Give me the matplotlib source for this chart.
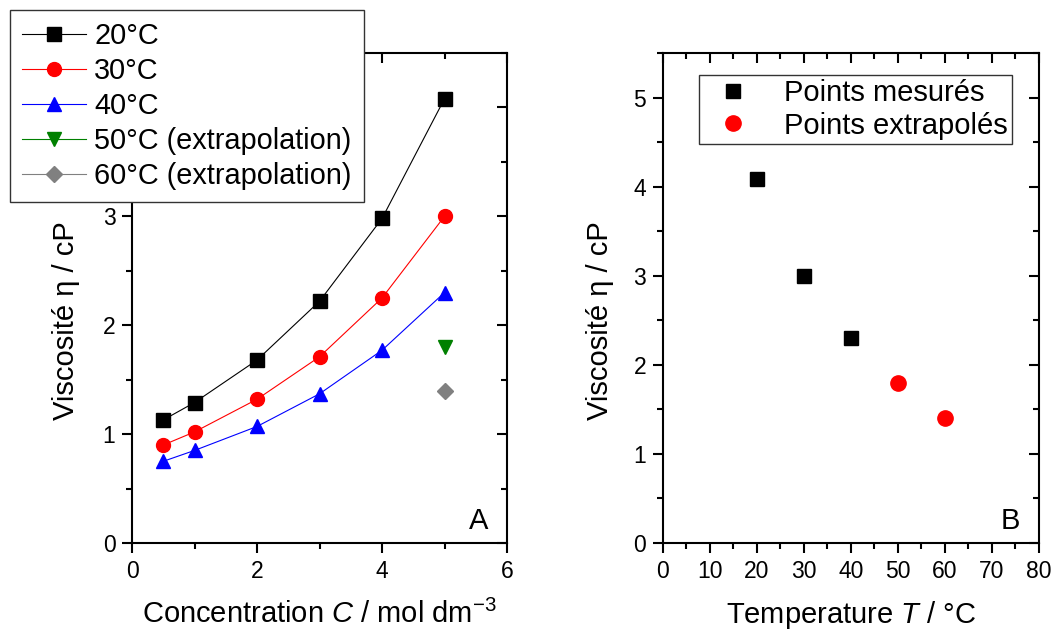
import numpy as np
import matplotlib as mpl
import matplotlib.pyplot as plt
from matplotlib.ticker import MultipleLocator

mpl.rcParams.update({
    'font.family'       : 'Liberation Sans',
    'mathtext.fontset'  : 'custom',
    'mathtext.rm'       : 'Liberation Sans',
    'mathtext.it'       : 'Liberation Sans:italic',
    'axes.linewidth'    : 1.5,
    'axes.unicode_minus': False,
})

###################################
# Data
###################################

conc = [0.5, 1, 2, 3, 4, 5]
visc_20 = [1.13, 1.29, 1.68, 2.22, 2.98, 4.08]
visc_30 = [0.90, 1.02, 1.32, 1.71, 2.25, 3.00]
visc_40 = [0.75, 0.85, 1.07, 1.37, 1.77, 2.30]
conc_extra = [5]
visc_50 = [1.80]
visc_60 = [1.40]

temp_meas = [20, 30, 40]
visc_meas = [4.08, 3.00, 2.30]
temp_extra = [50, 60]
visc_extra = [1.80, 1.40]

###################################
# Figure
###################################

fig = plt.figure(figsize=(10.53, 6.40), dpi=100)
pos1 = [0.1254, 0.1516, 0.3561, 0.7656]
pos2 = [0.6296, 0.1516, 0.3571, 0.7656]
ax1 = fig.add_axes(pos1)
ax2 = fig.add_axes(pos2)


def style_axes(ax, pos, xmaj, xmin, ymaj, ymin):
    ax.xaxis.set_major_locator(MultipleLocator(xmaj))
    ax.xaxis.set_minor_locator(MultipleLocator(xmin))
    ax.yaxis.set_major_locator(MultipleLocator(ymaj))
    ax.yaxis.set_minor_locator(MultipleLocator(ymin))
    ax.tick_params(which='both', direction='out', width=1.5,
                   left=True, bottom=True, top=False, right=False)
    ax.tick_params(which='major', length=7, labelsize=16.5, pad=5)
    ax.tick_params(which='minor', length=4)
    ax.patch.set_visible(False)
    # overlay axes (drawn underneath) for the inward ticks on top and right
    ov = fig.add_axes(pos, sharex=ax, sharey=ax)
    ov.patch.set_visible(False)
    for s in ov.spines.values():
        s.set_visible(False)
    ov.tick_params(which='both', direction='in', width=1.5,
                   left=False, bottom=False, top=True, right=True,
                   labelleft=False, labelbottom=False, labeltop=False, labelright=False)
    ov.tick_params(which='major', length=7)
    ov.tick_params(which='minor', length=4)
    ov.set_zorder(ax.get_zorder() - 1)


############
## Panel A
############

ms = 9.5
lw = 0.8
ax1.plot(conc, visc_20, c='black', marker='s', ms=ms, lw=lw, label='20°C')
ax1.plot(conc, visc_30, c='red', marker='o', ms=ms+0.5, lw=lw, label='30°C')
ax1.plot(conc, visc_40, c='blue', marker='^', ms=ms+1, lw=lw, label='40°C')
ax1.plot(conc_extra, visc_50, c='green', marker='v', ms=ms+1, lw=lw, label='50°C (extrapolation)')
ax1.plot(conc_extra, visc_60, c='gray', marker='D', ms=ms-1.5, lw=lw, label='60°C (extrapolation)')
ax1.set_xlim([0, 6])
ax1.set_ylim([0, 4.5])
style_axes(ax1, pos1, 2, 1, 1, 0.5)
ax1.set_xlabel(r'Concentration $C$ / mol dm$^{\mathregular{-3}}$', fontsize=21, labelpad=12)
ax1.set_ylabel('Viscosité η / cP', fontsize=21)
ax1.yaxis.set_label_coords(-0.139, 0.453)
ax1.text(0.95, 0.016, 'A', transform=ax1.transAxes, ha='right', va='bottom', fontsize=21)
leg1 = ax1.legend(loc='upper left', bbox_to_anchor=(0.0095, 0.984), bbox_transform=fig.transFigure,
                  fontsize=20.8, fancybox=False, framealpha=1, edgecolor='#333333',
                  borderaxespad=0, borderpad=0.42, labelspacing=0.24,
                  handlelength=2.2, handletextpad=0.3)
leg1.get_frame().set_linewidth(1.0)
leg1.set_zorder(10)

############
## Panel B
############

ax2.plot(temp_meas, visc_meas, ls='none', c='black', marker='s', ms=ms+1, label='Points mesurés')
ax2.plot(temp_extra, visc_extra, ls='none', c='red', marker='o', ms=ms+1.5, label='Points extrapolés')
ax2.set_xlim([0, 80])
ax2.set_ylim([0, 5.5])
style_axes(ax2, pos2, 10, 5, 1, 0.5)
ax2.set_xlabel(r'Temperature $T$ / °C', fontsize=21, labelpad=12)
ax2.set_ylabel('Viscosité η / cP', fontsize=21)
ax2.yaxis.set_label_coords(-0.13, 0.453)
ax2.text(0.95, 0.016, 'B', transform=ax2.transAxes, ha='right', va='bottom', fontsize=21)
leg2 = ax2.legend(loc='upper left', bbox_to_anchor=(0.6638, 0.883), bbox_transform=fig.transFigure,
                  fontsize=21, fancybox=False, framealpha=1, edgecolor='#333333',
                  borderaxespad=0, borderpad=0.15, labelspacing=0.15,
                  handlelength=2.0, handletextpad=0.75)
leg2.get_frame().set_linewidth(1.0)

plt.savefig('out.png', dpi=100)
plt.close()
